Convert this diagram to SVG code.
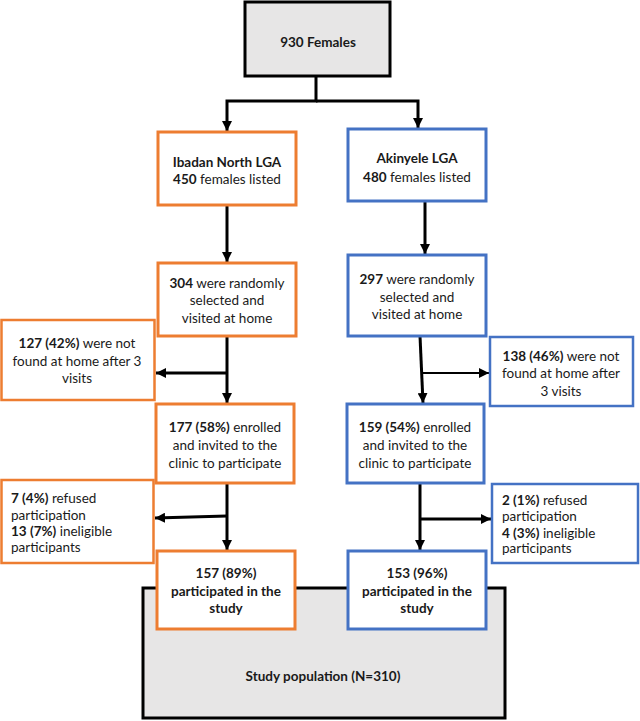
<svg xmlns="http://www.w3.org/2000/svg" width="640" height="721" viewBox="0 0 640 721">
<style>
text{font-family:Lato,"Liberation Sans",sans-serif;font-size:13.5px;fill:#1a1a1a}
.c{text-anchor:middle}
.b{font-weight:bold}
.gray{fill:#e7e6e6;stroke:#000;stroke-width:3}
.or{fill:#fff;stroke:#ed7d31;stroke-width:3}
.bl{fill:#fff;stroke:#4472c4;stroke-width:3}
.or2{fill:#fff;stroke:#ed7d31;stroke-width:2.5}
.bl2{fill:#fff;stroke:#4472c4;stroke-width:2.5}
.ln{fill:none;stroke:#000;stroke-width:3}
.ln2{fill:none;stroke:#000;stroke-width:2}
</style>
<defs>
<marker id="ah" markerUnits="userSpaceOnUse" markerWidth="10" markerHeight="10" viewBox="0 0 9 9" refX="9" refY="4.5" orient="auto">
<path d="M0,0 L9,4.5 L0,9 z" fill="#000"/>
</marker>
</defs>

<g id="connectors">
<path class="ln" d="M316,76 V101 H227 V131" marker-end="url(#ah)"/>
<path class="ln" d="M316,101 H418 V128" marker-end="url(#ah)"/>
<path class="ln" d="M227,205 V262" marker-end="url(#ah)"/>
<path class="ln" d="M425,201 V254" marker-end="url(#ah)"/>
<path class="ln" d="M227,336 V403" marker-end="url(#ah)"/>
<path class="ln" d="M227,373 H156" marker-end="url(#ah)"/>
<path class="ln" d="M420,336 L423,403" marker-end="url(#ah)"/>
<path class="ln2" d="M421,373 H489" marker-end="url(#ah)"/>
<path class="ln" d="M227,483 V550" marker-end="url(#ah)"/>
<path class="ln" d="M227,516 L155,518" marker-end="url(#ah)"/>
<path class="ln" d="M420,483 V550" marker-end="url(#ah)"/>
<path class="ln" d="M420,519 H491" marker-end="url(#ah)"/>
</g>

<g id="n930">
<rect class="gray" x="245" y="2" width="145" height="74"/>
<text class="c b" x="318" y="47">930 Females</text>
</g>

<g id="ibadan">
<rect class="or" x="158" y="132" width="138" height="73"/>
<text class="c b" x="227" y="167">Ibadan North LGA</text>
<text class="c" x="227" y="184"><tspan class="b">450</tspan> females listed</text>
</g>

<g id="akinyele">
<rect class="bl" x="348" y="129" width="138" height="72"/>
<text class="c b" x="417" y="163">Akinyele LGA</text>
<text class="c" x="417" y="182"><tspan class="b">480</tspan> females listed</text>
</g>

<g id="n304">
<rect class="or" x="158" y="263" width="138" height="73"/>
<text class="c" x="227" y="288"><tspan class="b">304</tspan> were randomly</text>
<text class="c" x="227" y="305">selected and</text>
<text class="c" x="227" y="323">visited at home</text>
</g>

<g id="n297">
<rect class="bl" x="348" y="255" width="138" height="81"/>
<text class="c" x="417" y="284"><tspan class="b">297</tspan> were randomly</text>
<text class="c" x="417" y="302">selected and</text>
<text class="c" x="417" y="319">visited at home</text>
</g>

<g id="n127">
<rect class="or2" x="1.5" y="320" width="153" height="80"/>
<text class="c" x="77" y="348"><tspan class="b">127 (42%)</tspan> were not</text>
<text class="c" x="77" y="366">found at home after 3</text>
<text class="c" x="77" y="383">visits</text>
</g>

<g id="n138">
<rect class="bl2" x="490" y="337" width="143" height="69"/>
<text class="c" x="561" y="361"><tspan class="b">138 (46%)</tspan> were not</text>
<text class="c" x="561" y="378">found at home after</text>
<text class="c" x="561" y="396">3 visits</text>
</g>

<g id="n177">
<rect class="or" x="156" y="404" width="138" height="79"/>
<text class="c" x="225" y="432"><tspan class="b">177 (58%)</tspan> enrolled</text>
<text class="c" x="225" y="450">and invited to the</text>
<text class="c" x="225" y="468">clinic to participate</text>
</g>

<g id="n159">
<rect class="bl" x="347" y="404" width="137" height="79"/>
<text class="c" x="415" y="432"><tspan class="b">159 (54%)</tspan> enrolled</text>
<text class="c" x="415" y="450">and invited to the</text>
<text class="c" x="415" y="468">clinic to participate</text>
</g>

<g id="n7">
<rect class="or2" x="1.5" y="480" width="152" height="83"/>
<text x="11" y="503"><tspan class="b">7 (4%)</tspan> refused</text>
<text x="11" y="520">participation</text>
<text x="11" y="536"><tspan class="b">13 (7%)</tspan> ineligible</text>
<text x="11" y="552">participants</text>
</g>

<g id="n2">
<rect class="bl2" x="492" y="484" width="146" height="79"/>
<text x="502" y="505"><tspan class="b">2 (1%)</tspan> refused</text>
<text x="502" y="521">participation</text>
<text x="502" y="538"><tspan class="b">4 (3%)</tspan> ineligible</text>
<text x="502" y="553">participants</text>
</g>

<g id="studypop">
<rect class="gray" x="143" y="588" width="362" height="130"/>
<text class="c b" x="323" y="681">Study population (N=310)</text>
</g>

<g id="n157">
<rect class="or" x="157" y="551" width="138" height="78"/>
<text class="c b" x="226" y="578">157 (89%)</text>
<text class="c b" x="226" y="596">participated in the</text>
<text class="c b" x="226" y="613">study</text>
</g>

<g id="n153">
<rect class="bl" x="348" y="551" width="138" height="78"/>
<text class="c b" x="417" y="578">153 (96%)</text>
<text class="c b" x="417" y="596">participated in the</text>
<text class="c b" x="417" y="613">study</text>
</g>
</svg>
